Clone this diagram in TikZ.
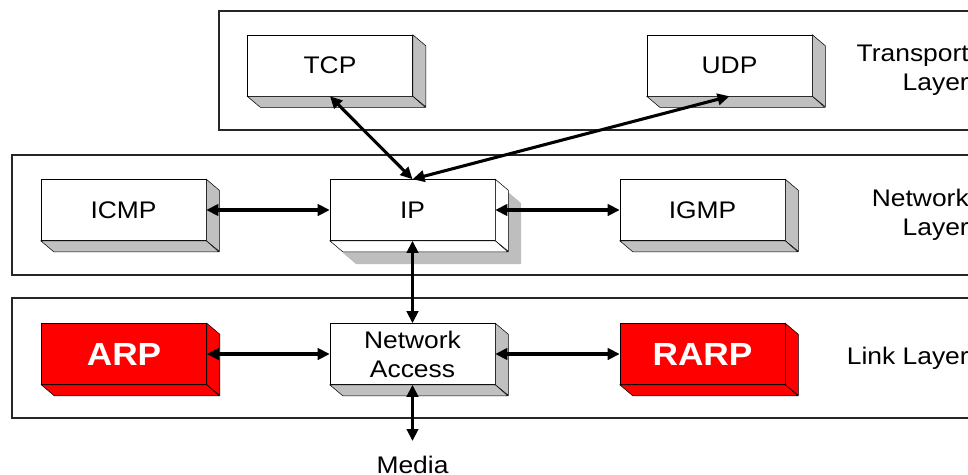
\documentclass[tikz,border=0pt]{standalone}
\usepackage{fontspec}
\setmainfont[FakeStretch=1.1]{Liberation Sans}
\usetikzlibrary{arrows.meta,positioning}

\definecolor{sidegray}{RGB}{192,192,192}
\definecolor{shadowgray}{RGB}{190,190,190}

% protocol slab: name, position, text, front style, side colour
\newcommand{\slab}[5]{%
  \node[proto,#4] (#1) at (#2) {#3};
  \filldraw[thin,fill=#5] (#1.north east) -- ++(13,11) -- ++(0,61) -- (#1.south east) -- cycle;
  \filldraw[thin,fill=#5] (#1.south west) -- ++(13,11) -- ++(165,0) -- (#1.south east) -- cycle;
}

\tikzset{
  proto/.style={draw, thin, fill=white, inner sep=0pt, align=center,
    minimum width=123.75pt, minimum height=45.75pt},
  alert/.style={fill=red, text=white, font=\fontsize{24}{28}\selectfont\bfseries},
  frame/.style={draw=black!85, line width=1.1pt},
  layertext/.style={anchor=east, align=right, inner sep=0pt},
  dataflow/.style={{Triangle[length=9pt,width=8.5pt]}-{Triangle[length=9pt,width=8.5pt]}, line width=2.3pt},
}

\begin{document}
\begin{tikzpicture}[x=0.75pt, y=-0.75pt, font=\fontsize{18}{21.75}\selectfont]
  \useasboundingbox (0,0) rectangle (968,475);
  \clip (0,0) rectangle (968,475);

  % layers
  \draw[frame] (219,11) rectangle (990,130);
  \draw[frame] (12,155) rectangle (990,275);
  \draw[frame] (12,298) rectangle (990,418);
  \node[layertext] (tlab) at (969,70) {Transport\\Layer};
  \node[layertext] (nlab) at (969,215) {Network\\Layer};
  \node[layertext] (llab) at (969,358) {Link Layer};

  % shadow behind IP
  \begin{scope}[shift={(13,12)}]
    \fill[shadowgray] (330,180) -- (495,180) -- (508,191) -- (508,252) -- (343,252) -- (330,241) -- cycle;
  \end{scope}

  \slab{tcp}{330,65.5}{TCP}{}{sidegray}
  \slab{udp}{729.5,65.5}{UDP}{}{sidegray}
  \slab{icmp}{123.5,210}{ICMP}{}{sidegray}
  \slab{ip}{412.5,210}{IP}{}{white}
  \slab{igmp}{702.5,210}{IGMP}{}{sidegray}
  \slab{arp}{124,354}{ARP}{alert}{red}
  \slab{netacc}{412.5,354}{Network\\Access}{}{sidegray}
  \slab{rarp}{702.5,354}{RARP}{alert}{red}

  \coordinate (wire) at (412.5,441);
  \node[below=11pt of wire, inner sep=0pt] (media) {Media};

  \draw[dataflow] (tcp.south) -- (ip.north);
  \draw[dataflow] (udp.south) -- (ip.north);
  \draw[dataflow] (icmp.east) -- (ip.west);
  \draw[dataflow] (ip.east) -- (igmp.west);
  \draw[dataflow] (ip.south) -- (netacc.north);
  \draw[dataflow] (arp.east) -- (netacc.west);
  \draw[dataflow] (netacc.east) -- (rarp.west);
  \draw[dataflow] (netacc.south) -- (wire);
\end{tikzpicture}
\end{document}
